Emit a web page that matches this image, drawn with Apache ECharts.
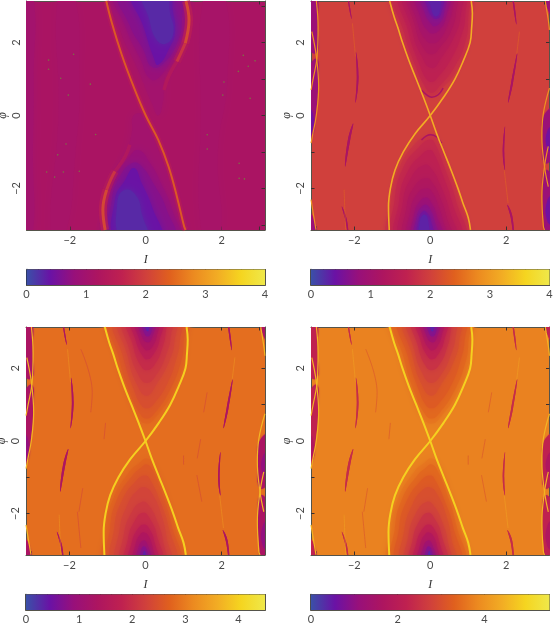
<!DOCTYPE html>
<html>
<head>
<meta charset="utf-8">
<style>html,body{margin:0;padding:0;background:#fff}#chart{width:553px;height:623px}</style>
<script src="https://cdn.jsdelivr.net/npm/echarts@6/dist/echarts.min.js"></script>
</head>
<body>
<div id="chart"></div>
<script>
// colour ramp, evenly spaced from 0 to the colorbar top
const RAMP = ['#3a50a8','#6a12a5','#98107a','#ad1560','#bf2150','#d0403c','#e0601e','#ec8a20','#f2ac24','#f5d520','#efe84a'];

// axis ticks
const phaseTicks = [-3,-2,-1,0,1,2,3];
const phaseLabels = [-2,0,2];
const cbarMax = [4,4,4.5,5.5];
const cbarMinor = [
  [.2,.4,.6,.8,1,1.2,1.4,1.6,1.8,2,2.2,2.4,2.6,2.8,3,3.2,3.4,3.6,3.8],
  [.2,.4,.6,.8,1,1.2,1.4,1.6,1.8,2,2.2,2.4,2.6,2.8,3,3.2,3.4,3.6,3.8],
  [.2,.4,.6,.8,1,1.2,1.4,1.6,1.8,2,2.2,2.4,2.6,2.8,3,3.2,3.4,3.6,3.8,4,4.2,4.4],
  [1,2,3,4,5]
];
const cbarMajor = [[1,2,3],[1,2,3],[1,2,3,4],[2,4]];
const cbarLabels = [[0,1,2,3,4],[0,1,2,3,4],[0,1,2,3,4],[0,2,4]];

// background level of each panel
const bgLevel = [1.15,2.0,2.85,3.75];

// panel 1: central lobes and side bands, [level, outline in (I, phi)]
const p1Lobes = [
  [1.0,[[-3.3,3.4],[-2.98,3.4],[-2.95,1],[-2.97,-1],[-3.0,-3.4],[-3.3,-3.4]]],
  [1.08,[[1.55,3.4],[2.05,3.4],[2.15,1],[1.9,-1],[1.95,-3.4],[1.5,-3.4],[1.45,0]]],
  [1.08,[[-2.3,3.4],[-1.9,3.4],[-1.75,1],[-1.85,-1],[-2.15,-3.4],[-2.5,-3.4],[-2.3,0]]],
  [1.0,[[-.89,3.4],[-.68,2.35],[-.24,1.34],[.16,.34],[.33,0],[.46,.43],[.48,.98],[.68,1.39],[.97,1.98],[1.06,2.62],[1.01,3.4]]],
  [.82,[[-.78,3.4],[-.52,2.4],[-.14,1.55],[.12,1.0],[.4,1.1],[.74,1.7],[1.0,2.45],[.93,3.4]]],
  [.65,[[-.68,3.4],[-.41,2.44],[-.06,1.8],[.16,1.34],[.46,1.43],[.82,1.98],[.95,2.62],[.86,3.4]]],
  [.4,[[-.37,3.4],[-.06,2.44],[.2,1.62],[.33,1.39],[.64,1.89],[.77,2.3],[.71,2.89],[.6,3.4]]],
  [.25,[[-.11,3.4],[.07,2.71],[.29,2.07],[.55,1.98],[.73,2.3],[.64,2.8],[.51,3.4]]],
  [1.0,[[-.98,-3.4],[-1.01,-2.49],[-.85,-1.76],[-.54,-1.12],[-.37,-.48],[-.32,0],[-.06,0],[.29,-.85],[.6,-1.67],[.82,-2.49],[.95,-3.4]]],
  [.82,[[-.94,-3.4],[-.95,-2.4],[-.78,-1.7],[-.46,-1.18],[-.2,-.95],[.14,-1.35],[.42,-1.9],[.7,-2.6],[.84,-3.4]]],
  [.65,[[-.89,-3.4],[-.89,-2.31],[-.68,-1.67],[-.37,-1.31],[-.15,-1.35],[.25,-1.95],[.55,-2.58],[.73,-3.4]]],
  [.4,[[-.76,-3.4],[-.81,-2.31],[-.54,-1.76],[-.31,-1.44],[-.11,-1.85],[.16,-2.49],[.38,-3.4]]],
  [.25,[[-.63,-3.4],[-.75,-2.4],[-.54,-2.04],[-.24,-2.22],[-.11,-2.68],[.03,-3.4]]]
];
const p1Diag = [[-1.04,3.14],[-.89,2.53],[-.63,1.66],[-.32,.79],[0,0],[.33,-.67],[.6,-1.4],[.82,-2.22],[1.01,-3.04],[1.05,-3.14]];
const p1ArcTopStrong = [[1.06,3.14],[1.14,2.62],[1.04,1.98]];
const p1ArcTopMid = [[1.04,1.98],[.92,1.7],[.82,1.48]];
const p1ArcTopWeak = [[.82,1.48],[.6,1.07],[.48,.7]];
const p1ArcBottomStrong = [[-1.07,-3.14],[-1.13,-2.58],[-1.03,-2.04]];
const p1ArcBottomMid = [[-1.03,-2.04],[-.92,-1.75],[-.81,-1.53]];
const p1ArcBottomWeak = [[-.81,-1.53],[-.54,-1.12],[-.42,-.8]];
const p1Spots = [[-2.56,1.52],[-2.56,1.27],[-2.24,1.02],[-1.9,1.68],[-2.04,.56],[-1.46,.86],[-1.32,-.52],[-2.1,-.78],[-2.32,-1.08],[-2.61,-1.55],[-2.4,-1.69],[-2.17,-1.55],[-1.75,-1.53],[2.06,.92],[2.03,.56],[2.44,1.21],[2.7,1.35],[2.88,1.5],[2.57,1.65],[2.75,.47],[1.62,-.53],[1.62,-.92],[2.46,-1.31],[2.46,-1.72],[2.6,-1.74]];

// panel 2: nested levels inside the two lobes
const p2Levels = [1.85,1.7,1.55,1.4,1.25,1.1,.9,.7,.5,.3];
const p2Top = [
  [[-.97,3.4],[-.78,2.3],[-.47,1.4],[-.2,.72],[.03,.52],[.28,.72],[.68,1.2],[1.0,2.0],[1.08,2.7],[1.03,3.4]],
  [[-.88,3.4],[-.68,2.25],[-.38,1.35],[-.14,.8],[.03,.62],[.24,.8],[.62,1.3],[.92,2.0],[1.0,2.7],[.96,3.4]],
  [[-.75,3.4],[-.58,2.3],[-.3,1.45],[-.1,1.0],[.04,.92],[.2,1.05],[.55,1.55],[.82,2.2],[.92,2.75],[.86,3.4]],
  [[-.65,3.4],[-.48,2.35],[-.24,1.65],[.04,1.3],[.3,1.6],[.62,2.15],[.8,2.75],[.76,3.4]],
  [[-.55,3.4],[-.4,2.45],[-.18,1.85],[.05,1.68],[.28,1.9],[.54,2.3],[.68,2.85],[.66,3.4]],
  [[-.46,3.4],[-.32,2.5],[-.12,2.08],[.06,1.98],[.26,2.1],[.46,2.5],[.58,2.9],[.56,3.4]],
  [[-.36,3.4],[-.24,2.65],[-.06,2.32],[.08,2.25],[.24,2.35],[.4,2.65],[.47,3.4]],
  [[-.26,3.4],[-.14,2.8],[.02,2.52],[.12,2.45],[.26,2.55],[.36,2.8],[.39,3.4]],
  [[-.16,3.4],[-.07,2.95],[.05,2.72],[.15,2.65],[.27,2.75],[.32,3.4]],
  [[-.03,3.4],[.03,2.92],[.13,2.72],[.25,2.85],[.2,3.4]]
];
const p2Bottom = [
  [[-1.03,-3.4],[-1.04,-2.4],[-.82,-1.45],[-.38,-.75],[-.1,-.56],[.02,-.5],[.2,-.68],[.46,-1.4],[.76,-2.3],[.95,-3.4]],
  [[-.95,-3.4],[-.94,-2.35],[-.72,-1.45],[-.28,-.85],[0,-.66],[.14,-.8],[.38,-1.45],[.68,-2.35],[.85,-3.4]],
  [[-.83,-3.4],[-.82,-2.35],[-.6,-1.55],[-.2,-1.05],[0,-.95],[.12,-1.1],[.3,-1.55],[.58,-2.4],[.75,-3.4]],
  [[-.73,-3.4],[-.72,-2.4],[-.5,-1.7],[-.15,-1.35],[.06,-1.5],[.28,-1.95],[.5,-2.6],[.63,-3.4]],
  [[-.63,-3.4],[-.62,-2.5],[-.42,-1.95],[-.12,-1.72],[.08,-1.88],[.28,-2.3],[.42,-2.75],[.53,-3.4]],
  [[-.54,-3.4],[-.52,-2.6],[-.34,-2.15],[-.12,-2.0],[.06,-2.12],[.22,-2.5],[.34,-2.9],[.43,-3.4]],
  [[-.45,-3.4],[-.42,-2.7],[-.27,-2.35],[-.1,-2.25],[.03,-2.4],[.16,-2.7],[.3,-3.4]],
  [[-.38,-3.4],[-.35,-2.75],[-.22,-2.5],[-.1,-2.45],[.02,-2.62],[.1,-2.85],[.2,-3.4]],
  [[-.32,-3.4],[-.3,-2.85],[-.18,-2.62],[-.08,-2.68],[.02,-2.9],[.08,-3.4]],
  [[-.26,-3.4],[-.27,-2.88],[-.14,-2.72],[-.05,-2.92],[-.05,-3.4]]
];
const p2TipTop = [[-.23,.7],[-.1,.57],[.04,.5],[.21,.57],[.34,.75]];
const p2TipBottom = [[-.23,-.67],[-.1,-.56],[.01,-.53],[.17,-.59],[.3,-.76]];

// panels 3 and 4 share the lobe outlines, with their own levels
const p3Levels = [2.75,2.6,2.45,2.3,2.15,1.95,1.7,1.4,1.1,.75,.35];
const p4Levels = [3.6,3.4,3.2,3.0,2.8,2.5,2.2,1.8,1.35,.9,.4];
const lobeTop = [
  [[-1.0,3.4],[-.82,2.4],[-.5,1.35],[-.22,.7],[.03,.48],[.3,.7],[.72,1.35],[1.0,2.1],[1.08,2.7],[1.04,3.4]],
  [[-.9,3.4],[-.7,2.3],[-.4,1.3],[-.16,.78],[.03,.62],[.25,.78],[.64,1.4],[.92,2.15],[1.0,2.7],[.97,3.4]],
  [[-.78,3.4],[-.58,2.3],[-.3,1.4],[-.12,1.0],[.03,.9],[.2,1.0],[.58,1.6],[.82,2.3],[.9,2.75],[.88,3.4]],
  [[-.66,3.4],[-.47,2.35],[-.22,1.55],[.03,1.25],[.28,1.55],[.62,2.2],[.76,2.75],[.74,3.4]],
  [[-.56,3.4],[-.42,2.5],[-.2,1.85],[.03,1.6],[.3,1.85],[.55,2.4],[.66,2.85],[.64,3.4]],
  [[-.46,3.4],[-.32,2.6],[-.14,2.1],[.03,1.95],[.25,2.12],[.45,2.6],[.53,3.0],[.52,3.4]],
  [[-.36,3.4],[-.25,2.75],[-.08,2.35],[.05,2.25],[.2,2.38],[.36,2.75],[.42,3.4]],
  [[-.27,3.4],[-.18,2.85],[-.04,2.55],[.06,2.5],[.18,2.6],[.3,2.9],[.33,3.4]],
  [[-.2,3.4],[-.1,2.9],[.04,2.72],[.16,2.82],[.25,3.4]],
  [[-.1,3.4],[-.03,2.97],[.06,2.88],[.15,3.0],[.18,3.4]],
  [[-.03,3.4],[.02,3.05],[.08,3.03],[.1,3.4]]
];
const lobeBottom = [
  [[-1.02,-3.4],[-1.03,-2.4],[-.85,-1.6],[-.42,-.85],[-.15,-.6],[.02,-.48],[.2,-.62],[.5,-1.35],[.76,-2.3],[.92,-3.4]],
  [[-.93,-3.4],[-.93,-2.4],[-.74,-1.6],[-.34,-.95],[-.1,-.72],[.02,-.64],[.16,-.76],[.42,-1.4],[.68,-2.3],[.83,-3.4]],
  [[-.82,-3.4],[-.82,-2.4],[-.62,-1.65],[-.25,-1.1],[0,-.95],[.14,-1.1],[.36,-1.6],[.6,-2.35],[.73,-3.4]],
  [[-.7,-3.4],[-.68,-2.45],[-.47,-1.75],[-.2,-1.35],[0,-1.28],[.2,-1.5],[.42,-2.05],[.55,-2.65],[.62,-3.4]],
  [[-.6,-3.4],[-.57,-2.6],[-.38,-2.0],[-.1,-1.68],[.1,-1.8],[.32,-2.25],[.47,-2.8],[.5,-3.4]],
  [[-.5,-3.4],[-.46,-2.7],[-.28,-2.2],[-.06,-1.98],[.12,-2.15],[.3,-2.6],[.4,-3.4]],
  [[-.41,-3.4],[-.36,-2.8],[-.2,-2.42],[-.04,-2.3],[.1,-2.42],[.24,-2.8],[.31,-3.4]],
  [[-.32,-3.4],[-.27,-2.88],[-.14,-2.58],[-.03,-2.52],[.08,-2.62],[.19,-2.95],[.22,-3.4]],
  [[-.24,-3.4],[-.18,-2.92],[-.06,-2.74],[.05,-2.85],[.14,-3.4]],
  [[-.14,-3.4],[-.11,-3.0],[-.04,-2.9],[.04,-3.02],[.06,-3.4]],
  [[-.09,-3.4],[-.05,-3.06],[-.01,-3.04],[.02,-3.4]]
];

// separatrix branches of panels 2 to 4
const sepDiag = [[-1.07,3.14],[-.95,2.7],[-.85,2.4],[-.73,2],[-.56,1.5],[-.37,1],[-.18,.5],[0,0],[.17,-.5],[.36,-1],[.55,-1.5],[.73,-2],[.86,-2.4],[1.0,-2.8],[1.06,-3.14]];
const sepAnti = [[1.08,3.14],[1.11,2.8],[1.09,2.4],[1.05,2],[.87,1.5],[.65,1],[.35,.5],[0,0],[-.4,-.5],[-.71,-1],[-.93,-1.5],[-1.05,-2],[-1.1,-2.5],[-1.08,-3.14]];

// dark wedges at the two side edges, panels 2 to 4
const edgeWedges = [
  [[-3.3,3.4],[-3.02,3.4],[-2.97,2.44],[-2.99,1.72],[-3.3,2.0]],
  [[-2.99,1.55],[-2.96,.79],[-3.02,.02],[-3.12,-.6],[-3.3,-.6],[-3.3,1.0]],
  [[-3.3,-2.7],[-3.1,-2.77],[-3.02,-3.4],[-3.3,-3.4]],
  [[3.05,3.4],[3.3,3.4],[3.3,2.7],[3.1,2.9]],
  [[3.3,.2],[3.0,0],[2.96,-.58],[3.01,-1.3],[3.3,-1.0]],
  [[3.02,-1.5],[2.96,-2.22],[3.0,-3.04],[3.03,-3.4],[3.3,-3.4],[3.3,-1.9]]
];
const edgeCores = [
  [[-3.3,.2],[-3.11,.1],[-3.13,-.5],[-3.3,-.6]],
  [[3.3,-.3],[3.1,-.4],[3.09,-.9],[3.3,-1.0]],
  [[3.3,-2.2],[3.1,-2.3],[3.09,-2.9],[3.3,-3.0]]
];
const edgeLines = [
  [[-3.0,3.14],[-2.955,2.44],[-2.98,1.62],[-3.09,.98],[-3.14,.7]],
  [[-3.12,2.3],[-3.0,1.62],[-2.94,.79],[-3.0,.02],[-3.09,-.48],[-3.14,-.76]],
  [[-3.14,-2.31],[-3.07,-2.77],[-3.01,-3.13]],
  [[3.14,.75],[2.98,.06],[2.94,-.58],[3.01,-1.4],[3.11,-1.95]],
  [[3.11,-.85],[3.01,-1.4],[2.94,-2.22],[2.98,-3.04],[3.01,-3.14]],
  [[3.03,3.14],[3.11,2.62],[3.14,2.35]]
];

// dark tapered spindles out in the chaotic sea
const spindles = [
  [[-2.19,3.4],[-2.14,2.95],[-2.07,2.65],[-2.11,2.95]],
  [[-1.96,1.75],[-1.935,1.07],[-1.97,.35],[-1.89,1.07]],
  [[-2.03,-.22],[-2.17,-.67],[-2.24,-1.4],[-2.11,-.67]],
  [[-2.33,-2.5],[-2.22,-2.95],[-2.16,-3.4],[-2.19,-2.9]],
  [[2.15,3.4],[2.2,2.9],[2.27,2.5],[2.23,2.95]],
  [[2.29,1.7],[2.13,.89],[2.05,.35],[2.18,.89]],
  [[1.97,-.3],[1.91,-1.03],[1.97,-1.5],[1.95,-1.03]],
  [[2.03,-2.45],[2.12,-2.8],[2.2,-3.4],[2.16,-2.75]]
];
const faintStreaks = [
  [[-1.7,2.53],[-1.4,1.34],[-1.44,.79]],
  [[-1.05,.5],[-1.09,.05]],
  [[1.62,1.34],[1.53,.79]],
  [[1.45,.05],[1.36,-.48]],
  [[1.0,-.4],[1.0,-.65]],
  [[1.35,-.94],[1.48,-1.67]],
  [[-1.79,-1.95],[-1.7,-2.95]],
  [[-1.65,-1.3],[-1.75,-1.95]]
];
const lightStreaks = [
  [[-2.05,2.53],[-1.97,1.62]],
  [[-2.27,-2.03],[-2.23,-3.13]],
  [[2.35,2.3],[2.28,1.7]],
  [[1.95,-1.5],[2.05,-2.4]]
];

const AXIS_COLOR = '#55534a';
const TEXT_COLOR = '#4a4a4a';
const FONT = 'Lato, "Liberation Sans", sans-serif';
const PANELS = [
  { left: 26.5, top: 1, width: 238.5, height: 229 },
  { left: 311, top: 1, width: 238.5, height: 229 },
  { left: 26, top: 327, width: 239, height: 228 },
  { left: 311, top: 327, width: 238.5, height: 228 },
];
const CBAR_TOP = [269.5,269.5,594.5,594.5];
const CBAR_HEIGHT = 15.5;

const colorOf = (value, max) => echarts.color.lerp(Math.min(1, Math.max(0, value / max)), RAMP);
const minusText = (v) => String(v).replace('-', '\u2212');

const grid = [];
const xAxis = [];
const yAxis = [];
const series = [];

function addGrid(rect, xCfg, yCfg) {
  const gridIndex = grid.length;
  grid.push({ ...rect, containLabel: false, outerBoundsMode: 'none', show: !!rect.backgroundColor, borderWidth: 0 });
  const xIndex = xAxis.length;
  const yIndex = yAxis.length;
  xAxis.push({ ...xCfg, gridIndex, position: 'bottom' });
  xAxis.push({ ...xCfg, gridIndex, position: 'top', name: '', axisLabel: { show: false } });
  yAxis.push({ ...yCfg, gridIndex, position: 'left' });
  yAxis.push({ ...yCfg, gridIndex, position: 'right', name: '', axisLabel: { show: false } });
  return { xIndex, yIndex };
}

function phaseAxis(name, nameGap, labelMargin, rotate) {
  return {
    type: 'value', min: -Math.PI, max: Math.PI, name, nameLocation: 'middle', nameGap,
    nameTextStyle: { fontFamily: '"Liberation Serif", serif', fontStyle: 'italic', fontSize: 12, color: '#333' },
    splitLine: { show: false },
    axisLine: { onZero: false, lineStyle: { color: AXIS_COLOR, width: 1 } },
    axisTick: { inside: true, length: 3.5, customValues: phaseTicks, lineStyle: { color: '#3a3030', width: 1 } },
    axisLabel: { customValues: phaseLabels, formatter: minusText, margin: labelMargin, rotate, fontFamily: FONT, fontSize: 11, color: TEXT_COLOR },
  };
}

function addRegions(axes, regions, max, soft) {
  series.push({
    type: 'custom', xAxisIndex: axes.xIndex, yAxisIndex: axes.yIndex, clip: true, silent: true,
    data: regions.map((r, i) => [i]),
    renderItem: (params, api) => {
      const [level, outline] = regions[params.dataIndex];
      const fill = colorOf(level, max);
      return {
        type: 'polygon',
        shape: { points: outline.map((p) => api.coord(p)), smooth: 0.5 },
        style: { fill, shadowBlur: soft, shadowColor: fill },
      };
    },
  });
}

function addLine(axes, points, value, max, width, opacity) {
  series.push({
    type: 'line', xAxisIndex: axes.xIndex, yAxisIndex: axes.yIndex, data: points, smooth: 0.4,
    showSymbol: false, silent: true,
    lineStyle: { color: colorOf(value, max), width, opacity: opacity ?? 1, cap: 'butt' },
  });
}

// main panels
PANELS.forEach((rect, i) => {
  const max = cbarMax[i];
  const axes = addGrid(
    { ...rect, backgroundColor: colorOf(bgLevel[i], max) },
    phaseAxis('I', 24, 5, 0),
    phaseAxis('\u03C6', 18, 5, 90),
  );

  if (i === 0) {
    addRegions(axes, p1Lobes, max, 9);
    addLine(axes, p1Diag, 1.5, max, 6, 0.5);
    addLine(axes, p1ArcTopStrong, 1.6, max, 8, 0.6);
    addLine(axes, p1ArcBottomStrong, 1.6, max, 8, 0.6);
    addLine(axes, p1ArcTopMid, 1.45, max, 8, 0.5);
    addLine(axes, p1ArcBottomMid, 1.45, max, 8, 0.5);
    addLine(axes, p1Diag, 2.3, max, 2);
    addLine(axes, p1ArcTopStrong, 2.1, max, 3);
    addLine(axes, p1ArcBottomStrong, 2.1, max, 3);
    addLine(axes, p1ArcTopMid, 1.85, max, 3);
    addLine(axes, p1ArcBottomMid, 1.85, max, 3);
    addLine(axes, p1ArcTopWeak, 1.4, max, 3.5, 0.7);
    addLine(axes, p1ArcBottomWeak, 1.4, max, 3.5, 0.7);
    series.push({
      type: 'scatter', xAxisIndex: axes.xIndex, yAxisIndex: axes.yIndex, data: p1Spots, silent: true,
      symbolSize: 1.6, itemStyle: { color: '#6f8a3c' },
    });
    return;
  }

  const edgeRegions = [
    ...edgeWedges.map((w) => [[0, 0.85, 1.3, 2.2][i], w]),
    ...edgeCores.map((w) => [[0, 0.45, 0.85, 1.7][i], w]),
  ];
  addRegions(axes, edgeRegions, max, 1.5);

  if (i === 1) {
    addRegions(axes, [
      ...p2Levels.map((v, k) => [v, p2Top[k]]),
      ...p2Levels.map((v, k) => [v, p2Bottom[k]]),
    ], max, 6);
    addLine(axes, p2TipTop, 1.15, max, 1.5);
    addLine(axes, p2TipBottom, 1.15, max, 1.5);
  } else {
    const levels = i === 2 ? p3Levels : p4Levels;
    addRegions(axes, [
      ...levels.map((v, k) => [v, lobeTop[k]]),
      ...levels.map((v, k) => [v, lobeBottom[k]]),
    ], max, 6);
    faintStreaks.forEach((s) => addLine(axes, s, i === 2 ? 2.3 : 3.0, max, 0.8, 0.7));
  }

  lightStreaks.forEach((s) => addLine(axes, s, [0, 2.5, 3.4, 4.3][i], max, 0.8, 0.6));
  addRegions(axes, spindles.map((s) => [[0, 1.15, 1.35, 2.4][i], s]), max, 0.5);
  edgeLines.forEach((s) => addLine(axes, s, [0, 2.9, 3.7, 4.5][i], max, 1.2));
  addLine(axes, sepDiag, [0, 3.2, 4.0, 4.9][i], max, [0, 1.6, 2, 2][i]);
  addLine(axes, sepAnti, [0, 3.2, 4.0, 4.9][i], max, [0, 1.6, 2, 2][i]);
});

// colorbars: a fine-tick grid with the gradient, and an overlay for the longer major ticks
PANELS.forEach((panel, i) => {
  const max = cbarMax[i];
  const rect = { left: panel.left, top: CBAR_TOP[i], width: panel.width, height: CBAR_HEIGHT };
  const hiddenY = { type: 'value', min: 0, max: 1, axisLabel: { show: false }, axisTick: { show: false }, splitLine: { show: false }, axisLine: { onZero: false, lineStyle: { color: AXIS_COLOR } } };
  const barAxis = (ticks, len, labels) => ({
    type: 'value', min: 0, max, splitLine: { show: false },
    axisLine: { onZero: false, lineStyle: { color: AXIS_COLOR } },
    axisTick: { inside: true, length: len, customValues: ticks, lineStyle: { color: '#2e2a28', width: 1 } },
    axisLabel: labels
      ? { customValues: labels, margin: 4, fontFamily: FONT, fontSize: 11, color: TEXT_COLOR }
      : { show: false },
  });
  const axes = addGrid(rect, barAxis(cbarMinor[i], 2.5, cbarLabels[i]), hiddenY);
  series.push({
    type: 'custom', xAxisIndex: axes.xIndex, yAxisIndex: axes.yIndex, silent: true, data: [[0]], z: 1,
    renderItem: (params, api) => {
      const a = api.coord([0, 1]);
      const b = api.coord([max, 0]);
      return {
        type: 'rect',
        shape: { x: a[0], y: a[1], width: b[0] - a[0], height: b[1] - a[1] },
        style: {
          fill: new echarts.graphic.LinearGradient(0, 0, 1, 0, RAMP.map((color, k) => ({ offset: k / (RAMP.length - 1), color }))),
        },
      };
    },
  });
  const overlay = addGrid(rect, barAxis(cbarMajor[i], 5, null), hiddenY);
  yAxis[overlay.yIndex].axisLine = { onZero: false, lineStyle: { color: '#111', width: 1.5 } };
});

const chart = echarts.init(document.getElementById('chart'), null, { renderer: 'canvas' });
chart.setOption({ animation: false, backgroundColor: '#ffffff', grid, xAxis, yAxis, series });
</script>
</body>
</html>
